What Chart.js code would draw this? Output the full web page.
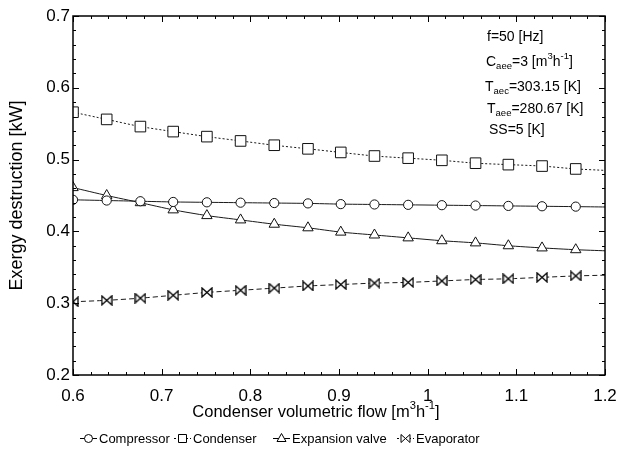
<!DOCTYPE html>
<html>
<head>
<meta charset="utf-8">
<script src="https://cdn.jsdelivr.net/npm/chart.js@4.4.0/dist/chart.umd.min.js"></script>
<style>
  html, body { margin: 0; padding: 0; background: #fff; }
  #wrap { width: 628px; height: 457px; }
</style>
</head>
<body>
<div id="wrap"><canvas id="chart" width="628" height="457"></canvas></div>
<script>
// condenser volumetric flow [m3/h] where the markers sit
const flow = [0.6, 0.638, 0.676, 0.713, 0.751, 0.789, 0.827, 0.865, 0.902, 0.940, 0.978, 1.016, 1.054, 1.091, 1.129, 1.167, 1.2];

const compressor = [0.444, 0.443, 0.442, 0.441, 0.4405, 0.440, 0.4395, 0.439, 0.438, 0.4375, 0.437, 0.4365, 0.436, 0.4355, 0.435, 0.4345, 0.434];
const condenser  = [0.566, 0.556, 0.546, 0.539, 0.532, 0.526, 0.520, 0.515, 0.510, 0.505, 0.502, 0.499, 0.495, 0.493, 0.491, 0.487, 0.485];
const expansion  = [0.461, 0.450, 0.440, 0.430, 0.422, 0.416, 0.410, 0.405, 0.399, 0.395, 0.391, 0.387, 0.384, 0.380, 0.377, 0.3745, 0.373];
const evaporator = [0.302, 0.304, 0.307, 0.311, 0.315, 0.318, 0.321, 0.324, 0.326, 0.328, 0.329, 0.331, 0.333, 0.334, 0.336, 0.338, 0.339];

const seriesNames = ['Compressor', 'Condenser', 'Expansion valve', 'Evaporator'];
const xTickLabels = ['0.6', '0.7', '0.8', '0.9', '1', '1.1', '1.2'];
const yTickLabels = ['0.2', '0.3', '0.4', '0.5', '0.6', '0.7'];

const yTitle = 'Exergy destruction [kW]';
const xTitle = 'Condenser volumetric flow [m^{3}h^{-1}]';
const notes = ['f=50 [Hz]', 'C_{aee}=3 [m^{3}h^{-1}]', 'T_{aec}=303.15 [K]', 'T_{aee}=280.67 [K]', 'SS=5 [K]'];

const FONT = 'Arial, "Liberation Sans", sans-serif';

// bow-tie marker for the evaporator
function bowtie(g, cx, cy, w, h) {
  g.beginPath();
  g.moveTo(cx - w / 2, cy - h / 2);
  g.lineTo(cx - w / 2, cy + h / 2);
  g.lineTo(cx + w / 2, cy - h / 2);
  g.lineTo(cx + w / 2, cy + h / 2);
  g.closePath();
  g.fillStyle = '#fff';
  g.fill();
  g.stroke();
}

function bowtieCanvas() {
  const c = document.createElement('canvas');
  c.width = 12; c.height = 11;
  const g = c.getContext('2d');
  g.strokeStyle = '#000';
  g.lineWidth = 1.3;
  bowtie(g, 6, 5.5, 10, 9);
  return c;
}

const evapMarker = bowtieCanvas();
const radii = flow.map((x, i) => i === flow.length - 1 ? 0 : 1);

function ds(label, data, style, radius, dash, legendKind) {
  return {
    label,
    legendKind,
    data: flow.map((x, i) => ({ x, y: data[i] })),
    borderColor: '#1a1a1a',
    borderWidth: 1,
    borderDash: dash,
    pointStyle: style,
    pointRadius: radii.map(r => r * radius),
    pointBackgroundColor: '#fff',
    pointBorderColor: '#111',
    pointBorderWidth: 1,
    tension: 0.2,
    fill: false
  };
}

// rich text with _{sub} and ^{sup}
function drawRich(g, str, x, y, size) {
  const parts = str.split(/(_\{[^}]*\}|\^\{[^}]*\})/).filter(s => s);
  g.textBaseline = 'middle';
  g.textAlign = 'left';
  let cx = x;
  parts.forEach(p => {
    let t = p, fs = size, dy = 0;
    if (p.startsWith('_{')) { t = p.slice(2, -1); fs = size * 0.68; dy = size * 0.3; }
    if (p.startsWith('^{')) { t = p.slice(2, -1); fs = size * 0.68; dy = -size * 0.38; }
    g.font = fs + 'px ' + FONT;
    g.fillText(t, cx, y + dy);
    cx += g.measureText(t).width;
  });
  return cx - x;
}

function richWidth(g, str, size) {
  const parts = str.split(/(_\{[^}]*\}|\^\{[^}]*\})/).filter(s => s);
  let w = 0;
  parts.forEach(p => {
    let t = p, fs = size;
    if (p.startsWith('_{') || p.startsWith('^{')) { t = p.slice(2, -1); fs = size * 0.68; }
    g.font = fs + 'px ' + FONT;
    w += g.measureText(t).width;
  });
  return w;
}

// legend entry: short line, marker, label
function legendEntry(g, d, x, y) {
  g.save();
  g.strokeStyle = '#000';
  g.lineWidth = 1;
  g.setLineDash(d.borderDash.length ? [2, 2] : []);
  g.beginPath(); g.moveTo(x, y + 0.5); g.lineTo(x + 17, y + 0.5); g.stroke();
  g.setLineDash([]);
  const cx = x + 8.5, cy = y + 0.5;
  g.fillStyle = '#fff';
  g.beginPath();
  if (d.legendKind === 'circle') g.arc(cx, cy, 4, 0, Math.PI * 2);
  if (d.legendKind === 'rect') g.rect(cx - 4, cy - 4, 8, 8);
  if (d.legendKind === 'triangle') { g.moveTo(cx, cy - 5); g.lineTo(cx + 4.5, cy + 3); g.lineTo(cx - 4.5, cy + 3); g.closePath(); }
  if (d.legendKind === 'bowtie') bowtie(g, cx, cy, 9, 8);
  else { g.fill(); g.stroke(); }
  g.fillStyle = '#000';
  g.font = '13px ' + FONT;
  g.textBaseline = 'middle';
  g.textAlign = 'left';
  g.fillText(d.label, x + 19, y + 1);
  g.restore();
}

const frame = {
  id: 'frame',
  afterDraw(chart) {
    const g = chart.ctx;
    const a = chart.chartArea;
    const xs = chart.scales.x, ys = chart.scales.y;
    g.save();
    g.strokeStyle = '#000';
    g.lineWidth = 1.5;
    g.strokeRect(a.left, a.top, a.right - a.left, a.bottom - a.top);
    g.lineWidth = 1;
    g.beginPath();
    for (let i = 0; i <= 25; i++) {
      const py = Math.round(ys.getPixelForValue(0.2 + i * 0.02)) + 0.5;
      const len = i % 5 === 0 ? 6 : 3;
      g.moveTo(a.left, py); g.lineTo(a.left + len, py);
      g.moveTo(a.right, py); g.lineTo(a.right - len, py);
    }
    for (let i = 0; i <= 30; i++) {
      const px = Math.round(xs.getPixelForValue(0.6 + i * 0.02)) + 0.5;
      const len = i % 5 === 0 ? 6 : 3;
      g.moveTo(px, a.bottom); g.lineTo(px, a.bottom - len);
      g.moveTo(px, a.top); g.lineTo(px, a.top + len);
    }
    g.stroke();

    g.fillStyle = '#000';
    // x axis title
    const tw = richWidth(g, xTitle, 16.5);
    drawRich(g, xTitle, 316 - tw / 2, a.bottom + 37, 16.5);
    // condition notes
    const noteY = [37, 62, 87.5, 109, 130];
    const noteX = [487, 486, 485, 487, 489];
    notes.forEach((n, i) => drawRich(g, n, noteX[i], noteY[i], 14));
    // legend row
    const legX = [80, 174, 273, 397];
    chart.data.datasets.forEach((d, i) => legendEntry(g, d, legX[i], 438));
    g.restore();
  }
};

new Chart(document.getElementById('chart'), {
  type: 'line',
  data: {
    datasets: [
      ds(seriesNames[0], compressor, 'circle', 4.6, [], 'circle'),
      ds(seriesNames[1], condenser, 'rect', 7.5, [2, 2], 'rect'),
      ds(seriesNames[2], expansion, 'triangle', 6, [], 'triangle'),
      ds(seriesNames[3], evaporator, evapMarker, 5, [5, 3], 'bowtie')
    ]
  },
  options: {
    responsive: false,
    animation: false,
    devicePixelRatio: 1,
    layout: { padding: { left: 0, right: 23, top: 16, bottom: 36 } },
    plugins: {
      tooltip: { enabled: false },
      legend: { display: false }
    },
    scales: {
      x: {
        type: 'linear', min: 0.6, max: 1.2,
        grid: { display: false, drawTicks: false },
        border: { display: false },
        ticks: {
          stepSize: 0.1, padding: 11, color: '#000', maxRotation: 0,
          font: { family: FONT, size: 17 },
          callback: (v, i) => xTickLabels[i]
        },
        afterFit: s => { s.height = 46; }
      },
      y: {
        min: 0.2, max: 0.7,
        grid: { display: false, drawTicks: false },
        border: { display: false },
        ticks: {
          stepSize: 0.1, padding: 3, color: '#000',
          font: { family: FONT, size: 17 },
          callback: (v, i) => yTickLabels[i]
        },
        title: {
          display: true, text: yTitle, color: '#000',
          font: { family: FONT, size: 18 },
          padding: { top: 6, bottom: 0 }
        },
        afterFit: s => { s.width = 73; }
      }
    }
  },
  plugins: [frame]
});
</script>
</body>
</html>
